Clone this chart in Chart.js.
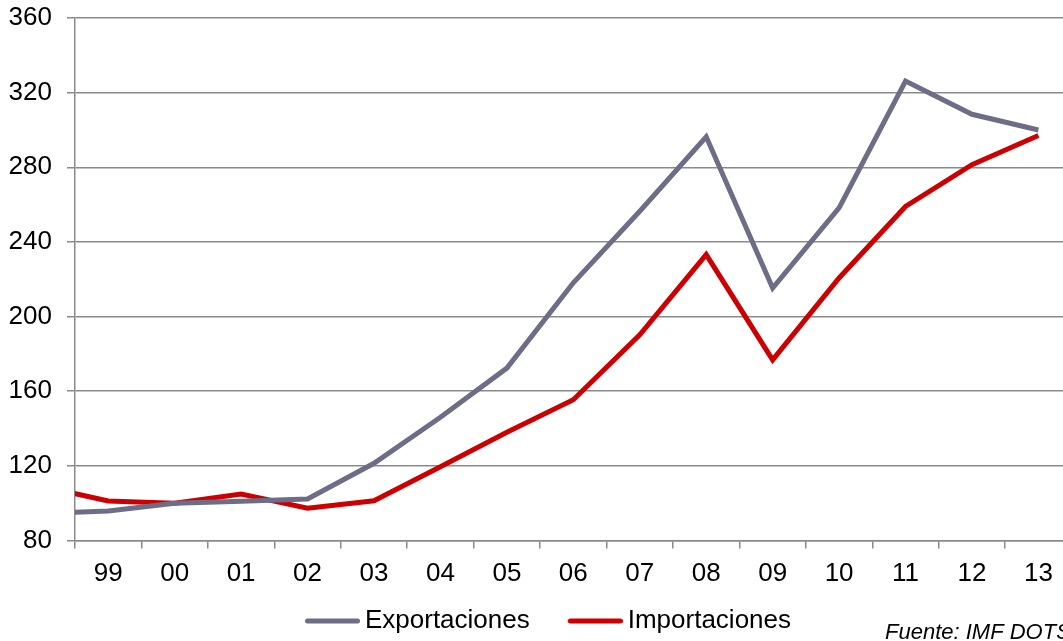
<!DOCTYPE html>
<html>
<head>
<meta charset="utf-8">
<script src="https://cdn.jsdelivr.net/npm/chart.js@4/dist/chart.umd.min.js"></script>
<style>
  html, body { margin: 0; padding: 0; background: #fff; }
  #wrap { width: 1063px; height: 641px; position: relative; }
</style>
</head>
<body>
<div id="wrap"><canvas id="chart"></canvas></div>
<script>
// Years (two-digit labels); '98' sits just left of the plot and is clipped at the axis
const categories = ['98', '99', '00', '01', '02', '03', '04', '05', '06', '07', '08', '09', '10', '11', '12', '13'];
const exportaciones = [94.6, 95.8, 100, 101, 102.2, 121.4, 146, 172.4, 218.1, 256.4, 296.3, 215.3, 258.2, 326.2, 308.4, 300];
const importaciones = [109, 101.2, 100, 104.9, 97.3, 101.3, 119.5, 138, 155.4, 190.2, 233.2, 176.8, 220.7, 259, 281.4, 297];
const yTicks = [80, 120, 160, 200, 240, 280, 320, 360];
const sourceNote = 'Fuente: IMF DOTS';

const FONT = '"Liberation Sans", Arial, Helvetica, sans-serif';
const GRID = '#8a8a8a';
const GRAY = '#6d6d88';
const RED = '#cc0000';

// Legend swatch: a short thick line, drawn into a small canvas
function swatch(color) {
  const c = document.createElement('canvas');
  c.width = 92; c.height = 8;
  const g = c.getContext('2d');
  g.strokeStyle = color;
  g.lineWidth = 5;
  g.lineCap = 'round';
  g.beginPath();
  g.moveTo(37 + 2.5, 4);
  g.lineTo(92 - 2.5, 4);
  g.stroke();
  return c;
}

const series = (vals) => vals.map((v, i) => ({ x: i, y: v }));

Chart.defaults.font.family = FONT;
Chart.defaults.color = '#000';

// Source note in the lower right corner
const notePlugin = {
  id: 'sourceNote',
  afterDraw(chart) {
    const ctx = chart.ctx;
    ctx.save();
    ctx.font = 'italic 22px ' + FONT;
    ctx.fillStyle = '#000';
    ctx.textAlign = 'left';
    ctx.textBaseline = 'alphabetic';
    ctx.fillText(sourceNote, 885, 639);
    ctx.restore();
  }
};

new Chart(document.getElementById('chart'), {
  type: 'line',
  data: {
    datasets: [
      {
        label: 'Exportaciones',
        data: series(exportaciones),
        borderColor: GRAY,
        backgroundColor: GRAY,
        borderWidth: 5,
        pointRadius: 0,
        pointStyle: swatch(GRAY),
        tension: 0,
        clip: 0
      },
      {
        label: 'Importaciones',
        data: series(importaciones),
        borderColor: RED,
        backgroundColor: RED,
        borderWidth: 5,
        pointRadius: 0,
        pointStyle: swatch(RED),
        tension: 0,
        clip: 0
      }
    ]
  },
  options: {
    responsive: true,
    maintainAspectRatio: false,
    animation: false,
    events: [],
    layout: { padding: { left: 4, right: 0, top: 18, bottom: -3 } },
    scales: {
      x: {
        type: 'linear',
        min: 0.5,
        max: 15.37,
        afterBuildTicks(scale) {
          scale.ticks = categories.slice(1).map((_, i) => ({ value: i + 1 }));
        },
        afterFit(scale) { scale.height = 58.5; },
        ticks: {
          autoSkip: false,
          maxRotation: 0,
          padding: 10,
          font: { size: 26 },
          color: '#000',
          callback: (v) => categories[v]
        },
        grid: {
          offset: true,
          drawOnChartArea: false,
          drawTicks: true,
          tickLength: 8,
          color: GRID,
          lineWidth: 1.5
        },
        border: { display: true, color: GRID, width: 1.5 }
      },
      y: {
        min: 80,
        max: 360,
        afterBuildTicks(scale) {
          scale.ticks = yTicks.map(v => ({ value: v }));
        },
        afterFit(scale) {
          scale.width = 71;
          scale.paddingTop = 0;
          scale.paddingBottom = 0;
        },
        ticks: {
          padding: 15,
          font: { size: 26 },
          color: '#000'
        },
        grid: {
          color: GRID,
          lineWidth: 1.5,
          tickLength: 8
        },
        border: { display: true, color: GRID, width: 1.5 }
      }
    },
    plugins: {
      legend: {
        position: 'bottom',
        labels: {
          usePointStyle: true,
          pointStyleWidth: 76,
          padding: 9,
          font: { size: 26 },
          color: '#000'
        }
      },
      tooltip: { enabled: false }
    }
  },
  plugins: [notePlugin]
});
</script>
</body>
</html>
